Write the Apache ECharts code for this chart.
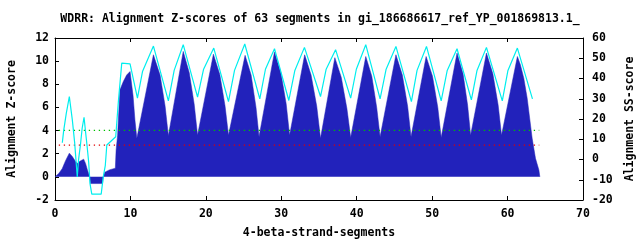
<!DOCTYPE html>
<html><head><meta charset="utf-8">
<script src="https://cdn.jsdelivr.net/npm/echarts@6/dist/echarts.min.js"></script>
<style>html,body{margin:0;padding:0;background:#fff}#c{width:640px;height:240px}</style>
</head><body><div id="c"></div>
<script>
const chartTitle = "WDRR: Alignment Z-scores of 63 segments in gi_186686617_ref_YP_001869813.1_";
const xAxisName = "4-beta-strand-segments";
const yAxisName = "Alignment Z-score";
const y2AxisName = "Alignment SS-score";

// Z-score area (blue): segment position, value
const zX = [0, 0.5, 0.95, 1.4, 1.9, 2.3, 2.7, 2.95, 3.3, 3.8, 4.05, 4.3, 4.6, 4.7, 6.3, 6.4, 6.6, 7.2, 8.0, 8.1, 8.3, 8.6, 9.06, 9.5, 9.95, 10.35, 10.6, 10.85,
  13.05, 13.93, 14.6, 15.03,
  17.0, 17.8, 18.45, 18.9,
  21.0, 21.85, 22.55, 23.0,
  25.2, 26.0, 26.65, 27.05,
  29.1, 29.95, 30.65, 31.1,
  33.1, 33.95, 34.7, 35.2,
  37.1, 37.95, 38.7, 39.2,
  41.2, 42.0, 42.65, 43.1,
  45.2, 46.05, 46.75, 47.2,
  49.2, 50.05, 50.75, 51.2,
  53.3, 54.1, 54.7, 55.1,
  57.2, 58.05, 58.75, 59.2,
  61.3, 61.7, 62.15, 62.6, 63.26, 63.7, 64.15, 64.28];
const zY = [0, 0.3, 0.7, 1.4, 2.05, 1.75, 1.35, 1.16, 1.35, 1.53, 1.16, 0.6, 0, -0.58, -0.58, 0, 0.4, 0.6, 0.75, 2.3, 3.6, 7.5, 8.24, 8.8, 9.1, 7.0, 4.9, 3.33,
  10.55, 8.8, 6.1, 3.56,
  10.84, 9.0, 6.3, 3.6,
  10.6, 8.85, 6.1, 3.6,
  10.5, 8.8, 6.0, 3.47,
  10.8, 9.0, 6.3, 3.6,
  10.55, 8.8, 6.1, 3.33,
  10.3, 8.6, 5.9, 3.4,
  10.4, 8.7, 6.0, 3.47,
  10.55, 8.8, 6.1, 3.47,
  10.4, 8.7, 6.0, 3.4,
  10.7, 8.9, 6.2, 3.6,
  10.7, 8.9, 6.2, 3.6,
  10.4, 9.69, 8.53, 6.8, 3.33, 1.6, 0.6, 0];

// SS-score line (cyan), drawn in Z-score units
const ssX = [0.97, 1.15, 1.5, 1.9, 2.3, 2.6, 2.95, 3.14, 3.37, 3.6, 3.85, 4.05, 4.24, 4.46, 4.64, 4.88, 6.12, 6.4, 6.67, 6.87, 7.1, 8.05, 8.4, 8.85, 9.95, 10.93,
  11.6, 13.05, 15.03, 15.8, 17.0, 18.9, 19.7, 21.05, 23.0, 23.8, 25.16, 27.15, 27.9, 29.1,
  31.0, 31.8, 33.07, 35.2, 35.95, 37.2, 39.2, 39.95, 41.2, 43.1, 43.9, 45.2,
  47.25, 48.0, 49.25, 51.2, 52.0, 53.3, 55.2, 55.95, 57.2, 59.3, 60.05, 61.3, 63.3];
const ssY = [2.95, 4.0, 5.5, 6.94, 4.9, 3.0, 0.0, 1.58, 2.75, 4.2, 5.15, 3.9, 2.75, 1.3, -0.58, -1.5, -1.5, 0, 1.0, 2.75, 2.9, 3.47, 6.5, 9.83, 9.77, 6.8,
  9.1, 11.3, 6.57, 9.2, 11.42, 6.89, 9.3, 11.13, 6.5, 9.2, 11.48, 6.74, 9.3, 11.07,
  6.6, 9.2, 11.19, 6.94, 9.3, 10.99, 6.8, 9.3, 11.42, 6.74, 9.3, 11.27,
  6.5, 9.2, 11.27, 6.57, 9.2, 11.07, 6.65, 9.2, 11.19, 6.57, 9.2, 11.13, 6.74];

// threshold lines (Z-score units)
const thresholdRange = [0.5, 64.2];
const greenLevel = 4.02;
const redLevel = 2.75;

const font = "DejaVu Sans Mono";
const txt = {fontFamily: font, fontSize: 11.5, fontWeight: 'bold', color: '#000'};
const zip = (a, b) => a.map((v, i) => [v, b[i]]);

const chart = echarts.init(document.getElementById('c'), null, {renderer: 'canvas'});
chart.setOption({
  animation: false,
  backgroundColor: '#fff',
  title: {text: chartTitle, left: 'center', top: 8, textStyle: Object.assign({}, txt)},
  grid: {left: 55, right: 57, top: 38, bottom: 40, containLabel: false, outerBoundsMode: 'none'},
  xAxis: [
    {type: 'value', min: 0, max: 70, interval: 10, position: 'bottom',
     name: xAxisName, nameLocation: 'middle', nameGap: 27, nameTextStyle: Object.assign({}, txt),
     axisLine: {onZero: false, lineStyle: {color: '#000', width: 1}},
     axisTick: {inside: true, length: 4, lineStyle: {color: '#000'}},
     axisLabel: Object.assign({margin: 8}, txt),
     splitLine: {show: false}},
    {type: 'value', min: 0, max: 70, interval: 10, position: 'top',
     axisLine: {onZero: false, lineStyle: {color: '#000', width: 1}},
     axisTick: {inside: true, length: 4, lineStyle: {color: '#000'}},
     axisLabel: {show: false}, splitLine: {show: false}}
  ],
  yAxis: [
    {type: 'value', min: -2, max: 12, interval: 2, position: 'left',
     name: yAxisName, nameLocation: 'middle', nameGap: 37, nameRotate: 90, nameTextStyle: Object.assign({}, txt),
     axisLine: {show: true, onZero: false, lineStyle: {color: '#000', width: 1}},
     axisTick: {show: true, inside: true, length: 4, lineStyle: {color: '#000'}},
     axisLabel: Object.assign({margin: 6}, txt),
     splitLine: {show: false}},
    {type: 'value', min: -20, max: 60, interval: 10, position: 'right',
     name: y2AxisName, nameLocation: 'middle', nameGap: 31, nameRotate: 90, nameTextStyle: Object.assign({}, txt),
     axisLine: {show: true, onZero: false, lineStyle: {color: '#000', width: 1}},
     axisTick: {show: true, inside: true, length: 4, lineStyle: {color: '#000'}},
     axisLabel: Object.assign({margin: 9}, txt),
     splitLine: {show: false}}
  ],
  series: [
    {type: 'line', xAxisIndex: 0, yAxisIndex: 0, data: zip(zX, zY), showSymbol: false, symbol: 'none',
     lineStyle: {width: 0.5, color: '#2222bb'}, areaStyle: {color: '#2222bb', opacity: 1}, z: 2},
    {type: 'line', xAxisIndex: 0, yAxisIndex: 0, data: [[thresholdRange[0], greenLevel], [thresholdRange[1], greenLevel]],
     symbol: 'none', lineStyle: {width: 1.3, color: '#00c000', type: [1.3, 3.7]}, z: 3},
    {type: 'line', xAxisIndex: 0, yAxisIndex: 0, data: [[thresholdRange[0], redLevel], [thresholdRange[1], redLevel]],
     symbol: 'none', lineStyle: {width: 1.3, color: '#e00000', type: [1.3, 3.7]}, z: 3},
    {type: 'line', xAxisIndex: 0, yAxisIndex: 0, data: zip(ssX, ssY), symbol: 'none',
     lineStyle: {width: 1.2, color: '#00eeee'}, z: 4}
  ]
});
</script>
</body></html>
